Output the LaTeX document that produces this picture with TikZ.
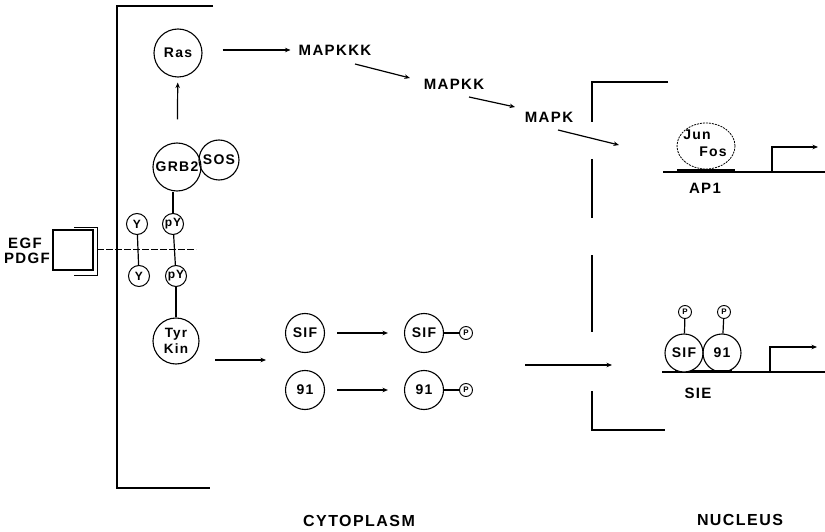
\documentclass[tikz,border=0pt]{standalone}
\usepackage{fontspec}
\setmainfont{Liberation Sans}[LetterSpace=9]
\usetikzlibrary{arrows.meta,calc,shapes.geometric}
\tikzset{
  txt/.style={inner sep=0pt, font=\fontsize{15}{15}\selectfont\bfseries},
  big/.style={inner sep=0pt, font=\fontsize{16}{16}\selectfont\bfseries},
  mol/.style={circle, draw, line width=1.1pt, inner sep=0pt, font=\fontsize{14}{14}\selectfont\bfseries},
  small/.style={circle, draw, line width=1pt, inner sep=0pt, minimum size=21pt, font=\fontsize{12}{12}\selectfont\bfseries},
  pcirc/.style={circle, draw, line width=0.9pt, inner sep=0pt, minimum size=13pt, font=\fontsize{8}{8}\selectfont\bfseries},
  link/.style={line width=1.2pt},
  arr/.style={line width=1.2pt, -{Stealth[length=5.5pt,width=4.5pt]}},
  wall/.style={line width=2.2pt},
  dna/.style={line width=3pt}
}
\begin{document}
\begin{tikzpicture}[x=1pt,y=-1pt]
\useasboundingbox (0,0) rectangle (825,532);
\fill[white] (0,0) rectangle (825,532);

% cytoplasm wall
\draw[wall] (213,6) -- (117,6) -- (117,488) -- (210,488);
% nucleus wall
\draw[wall] (668,82) -- (592,82) -- (592,122);
\draw[wall] (592,159) -- (592,218);
\draw[wall] (592,255) -- (592,332);
\draw[wall] (592,391) -- (592,430) -- (665,430);

% receptor
\node[txt] (egf) at (25,243) {EGF};
\node[txt] (pdgf) at (27,258) {PDGF};
\node[draw, line width=1.1pt, minimum width=40pt, minimum height=40pt, inner sep=0pt] (rec) at (73,250) {};
\draw[line width=0.9pt] (74,227) -- (97,227) -- (97,275) -- (74,275);
\coordinate (memL) at (97,249);
\coordinate (memR) at (196,249);
\draw[line width=1pt, dash pattern=on 7pt off 2pt] (memL) -- (memR);

% column of molecules
\node[mol, minimum size=48pt] (ras) at (178,53) {Ras};
\node[mol, minimum size=48pt] (grb) at (177,167) {GRB2};
\node[mol, minimum size=40pt] (sos) at (219,160) {SOS};
\node[small] (yt) at (137,224) {Y};
\node[small] (pyt) at (173,224) {pY};
\node[small] (yb) at (139,276) {Y};
\node[small] (pyb) at (176,276) {pY};
\node[mol, minimum size=46pt, align=center, font=\fontsize{13.5}{13.5}\selectfont\bfseries] (tyr) at (176,341) {Tyr\\[2pt]Kin};

\draw[arr, shorten <=23pt, shorten >=5pt] (grb) -- (ras);
\draw[link] (pyt) -- (pyt |- grb.south);
\draw[link] (yt) -- (yb);
\draw[link] (pyt) -- (pyb);
\draw[link] (pyb) -- (pyb |- tyr.north);

% MAP kinase cascade
\node[txt] (mapkkk) at (335,50) {MAPKKK};
\node[txt] (mapkk) at (454,84) {MAPKK};
\node[txt] (mapk) at (549,117) {MAPK};
\draw[arr] ($(ras.east)+(20,-3)$) -- ($(mapkkk.west)+(-8,0)$);
\draw[arr] ($(mapkkk)+(20,14)$) -- ($(mapkk)+(-44,-6)$);
\draw[arr] ($(mapkk)+(15,13)$) -- ($(mapk)+(-34,-10)$);

% STAT proteins
\node[mol, minimum size=39pt] (sif1) at (305,333) {SIF};
\node[mol, minimum size=39pt] (s91a) at (305,390) {91};
\node[mol, minimum size=39pt] (sif2) at (424,333) {SIF};
\node[mol, minimum size=39pt] (s91b) at (424,390) {91};
\node[pcirc] (p1) at (466,333) {P};
\node[pcirc] (p2) at (466,390) {P};
\draw[arr, shorten <=12pt, shorten >=16pt] (sif1) -- (sif2);
\draw[arr, shorten <=12pt, shorten >=16pt] (s91a) -- (s91b);
\draw[link] (sif2) -- (p1);
\draw[link] (s91b) -- (p2);
\coordinate (tyrout) at (266,360);
\draw[arr] ($(tyr)+(39,19)$) -- (tyrout);
\coordinate (nucin) at (525,365);
\coordinate (nuctip) at (612,365);
\draw[arr] (nucin) -- (nuctip);

% AP1 site
\draw[link] (663,172) -- (825,172);
\draw[dna] (677,171) -- (735,171);
\node[ellipse, draw, line width=0.8pt, dash pattern=on 2pt off 1pt, minimum width=58pt, minimum height=46pt, inner sep=0pt] (junfos) at (706,146) {};
\node[mol, draw=none] (jun) at (697,135) {Jun};
\node[mol, draw=none] (fos) at (713,152) {Fos};
\draw[arr] ($(mapk)+(9,13)$) -- ($(junfos)+(-87,-1)$);
\draw[arr] (772,172) -- (772,147) -- (818,147);
\node[txt] (ap1) at (705,188) {AP1};

% SIE site
\draw[link] (662,372) -- (825,372);
\draw[dna] (675,371) -- (732,371);
\node[mol, minimum size=38pt, fill=white] (sifn) at (684,353) {SIF};
\node[mol, minimum size=38pt] (n91) at (722,353) {91};
\node[pcirc] (pn1) at (685,312) {P};
\node[pcirc] (pn2) at (724,312) {P};
\draw[link] (pn1) -- (sifn);
\draw[link] (pn2) -- (n91);
\draw[arr] (770,372) -- (770,347) -- (817,347);
\node[txt] (sie) at (698,393) {SIE};

% compartment labels
\node[big] (cyto) at (359,521) {CYTOPLASM};
\node[big] (nucl) at (740,520) {NUCLEUS};
\end{tikzpicture}
\end{document}
